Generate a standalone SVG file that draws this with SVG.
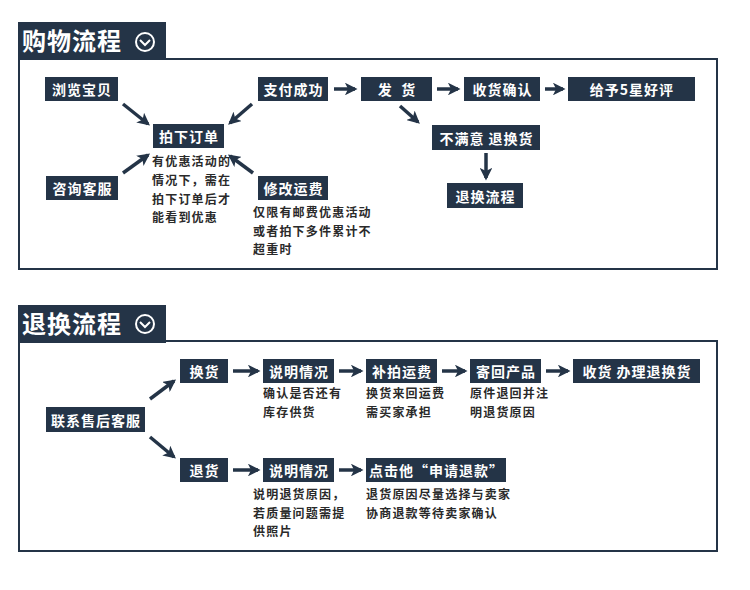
<svg xmlns="http://www.w3.org/2000/svg" width="750" height="590" viewBox="0 0 750 590">
<style>
.b{fill:#243447}
.t{fill:#fff;font-family:"Noto Sans CJK SC","Liberation Sans",sans-serif;font-weight:bold;font-size:14px;letter-spacing:1px;text-anchor:middle;dominant-baseline:central}
.h{fill:#fff;font-family:"Noto Sans CJK SC",sans-serif;font-weight:bold;font-size:24px;letter-spacing:1px}
.n{fill:#2a2a2a;font-family:"Noto Sans CJK SC",sans-serif;font-size:12px;font-weight:bold;letter-spacing:1.2px}
.f{fill:none;stroke:#243447;stroke-width:2}
.a{stroke:#243447;stroke-width:3.5;marker-end:url(#m)}
.c{fill:none;stroke:#fff;stroke-width:2}
</style>
<defs><marker id="m" viewBox="0 0 10 10" refX="8" refY="5" markerWidth="3.6" markerHeight="3.6" orient="auto" markerUnits="strokeWidth"><path d="M0,0L10,5L0,10L2.5,5z" fill="#243447"/></marker></defs>
<rect width="750" height="590" fill="#fff"/>
<g id="sec1">
<rect class="f" x="19" y="59" width="698" height="210"/>
<rect class="b" x="18" y="22" width="148" height="38"/>
<text class="h" x="22" y="50">购物流程</text>
<circle class="c" cx="145" cy="42" r="9"/><path d="M140,40l5,5l5,-5" stroke="#fff" stroke-width="2" fill="none"/>
</g>
<g id="sec2">
<rect class="f" x="19" y="341" width="698" height="210"/>
<rect class="b" x="18" y="305" width="148" height="38"/>
<text class="h" x="22" y="333">退换流程</text>
<circle class="c" cx="145" cy="324" r="9"/><path d="M140,322l5,5l5,-5" stroke="#fff" stroke-width="2" fill="none"/>
</g>
<g id="connectors">
<line class="a" x1="123" y1="104" x2="148" y2="124"/>
<line class="a" x1="252" y1="104" x2="230" y2="123"/>
<line class="a" x1="123" y1="173" x2="148" y2="155"/>
<line class="a" x1="253" y1="173" x2="230" y2="156"/>
<line class="a" x1="334" y1="89" x2="355" y2="89"/>
<line class="a" x1="437" y1="89" x2="458" y2="89"/>
<line class="a" x1="545" y1="89" x2="563" y2="89"/>
<line class="a" x1="400" y1="106" x2="418" y2="122"/>
<line class="a" x1="486" y1="153" x2="486" y2="178"/>
<line class="a" x1="150" y1="399" x2="174" y2="381"/>
<line class="a" x1="150" y1="437" x2="174" y2="457"/>
<line class="a" x1="233" y1="371" x2="258" y2="371"/>
<line class="a" x1="339" y1="371" x2="361" y2="371"/>
<line class="a" x1="442" y1="371" x2="465" y2="371"/>
<line class="a" x1="546" y1="371" x2="568" y2="371"/>
<line class="a" x1="233" y1="470" x2="258" y2="470"/>
<line class="a" x1="339" y1="470" x2="361" y2="470"/>
</g>
<g id="n1"><rect class="b" x="45" y="77" width="73" height="24"/><text class="t" x="82" y="89">浏览宝贝</text></g>
<g id="n2"><rect class="b" x="153" y="124" width="71" height="24"/><text class="t" x="189" y="136">拍下订单</text>
<text class="n" x="152" y="166">有优惠活动的</text><text class="n" x="152" y="185">情况下，需在</text><text class="n" x="152" y="204">拍下订单后才</text><text class="n" x="152" y="222">能看到优惠</text></g>
<g id="n3"><rect class="b" x="258" y="77" width="70" height="24"/><text class="t" x="293.5" y="89">支付成功</text></g>
<g id="n4"><rect class="b" x="361" y="77" width="71" height="24"/><text class="t" x="397" y="89" xml:space="preserve">发  货</text></g>
<g id="n5"><rect class="b" x="464" y="77" width="76" height="24"/><text class="t" x="502.5" y="89">收货确认</text></g>
<g id="n6"><rect class="b" x="568" y="77" width="127" height="24"/><text class="t" x="632" y="89">给予5星好评</text></g>
<g id="n7"><rect class="b" x="46" y="176" width="72" height="24"/><text class="t" x="82.5" y="188">咨询客服</text></g>
<g id="n8"><rect class="b" x="258" y="176" width="70" height="24"/><text class="t" x="293.5" y="188">修改运费</text>
<text class="n" x="253" y="217">仅限有邮费优惠活动</text><text class="n" x="253" y="236">或者拍下多件累计不</text><text class="n" x="253" y="254">超重时</text></g>
<g id="n9"><rect class="b" x="432" y="125" width="108" height="25"/><text class="t" x="486.5" y="137.5">不满意 退换货</text></g>
<g id="n10"><rect class="b" x="447" y="183" width="76" height="25"/><text class="t" x="485.5" y="195.5">退换流程</text></g>
<g id="r1"><rect class="b" x="46" y="407" width="99" height="25"/><text class="t" x="96" y="419.5">联系售后客服</text></g>
<g id="r2"><rect class="b" x="180" y="359" width="48" height="24"/><text class="t" x="204.5" y="371">换货</text></g>
<g id="r3"><rect class="b" x="263" y="359" width="71" height="24"/><text class="t" x="299" y="371">说明情况</text>
<text class="n" x="263" y="398">确认是否还有</text><text class="n" x="263" y="417">库存供货</text></g>
<g id="r4"><rect class="b" x="366" y="359" width="71" height="24"/><text class="t" x="402" y="371">补拍运费</text>
<text class="n" x="366" y="398">换货来回运费</text><text class="n" x="366" y="417">需买家承担</text></g>
<g id="r5"><rect class="b" x="470" y="359" width="71" height="24"/><text class="t" x="506" y="371">寄回产品</text>
<text class="n" x="470" y="398">原件退回并注</text><text class="n" x="470" y="417">明退货原因</text></g>
<g id="r6"><rect class="b" x="573" y="359" width="127" height="24"/><text class="t" x="637" y="371">收货 办理退换货</text></g>
<g id="r7"><rect class="b" x="180" y="458" width="48" height="24"/><text class="t" x="204.5" y="470">退货</text></g>
<g id="r8"><rect class="b" x="263" y="458" width="71" height="24"/><text class="t" x="299" y="470">说明情况</text>
<text class="n" x="253" y="499">说明退货原因，</text><text class="n" x="253" y="518">若质量问题需提</text><text class="n" x="253" y="536">供照片</text></g>
<g id="r9"><rect class="b" x="366" y="458" width="140" height="24"/><text class="t" x="436.5" y="470">点击他“申请退款”</text>
<text class="n" x="366" y="499">退货原因尽量选择与卖家</text><text class="n" x="366" y="518">协商退款等待卖家确认</text></g>
</svg>
